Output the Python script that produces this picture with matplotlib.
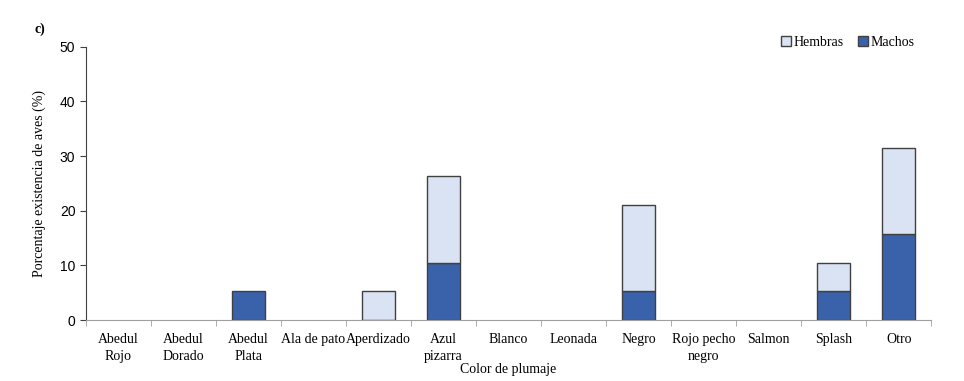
import numpy as np
import matplotlib.pyplot as plt
from matplotlib.patches import Patch

categorias = ['Abedul\nRojo', 'Abedul\nDorado', 'Abedul\nPlata', 'Ala de pato', 'Aperdizado',
              'Azul\npizarra', 'Blanco', 'Leonada', 'Negro', 'Rojo pecho\nnegro', 'Salmon',
              'Splash', 'Otro']
machos = [0, 0, 5.26, 0, 0, 10.53, 0, 0, 5.26, 0, 0, 5.26, 15.79]
hembras = [0, 0, 0, 0, 5.26, 15.79, 0, 0, 15.79, 0, 0, 5.26, 15.79]

serif = 'Liberation Serif'
sans = 'Liberation Sans'
c_machos = '#3A62AA'
c_hembras = '#DAE3F3'
borde = '#404040'

fig = plt.figure(figsize=(9.64, 3.81), dpi=100)
ax = fig.add_axes([0.089, 0.16, 0.877, 0.717])

x = np.arange(len(categorias))
# sin borde en las barras de altura cero
lw_m = [1 if v > 0 else 0 for v in machos]
lw_h = [1 if v > 0 else 0 for v in hembras]
ax.bar(x, machos, width=0.5, color=c_machos, edgecolor=borde, linewidth=lw_m)
ax.bar(x, hembras, width=0.5, bottom=machos, color=c_hembras, edgecolor=borde, linewidth=lw_h)

ax.set_xlim(-0.5, len(categorias) - 0.5)
ax.set_ylim(0, 50)
ax.set_yticks(range(0, 51, 10))
ax.set_xticks(x)
ax.set_xticklabels(categorias, fontfamily=serif, fontsize=10, linespacing=1.4)
ax.set_xticks(np.arange(-0.5, len(categorias), 1), minor=True)
ax.tick_params(axis='x', which='major', length=0, pad=9)
ax.tick_params(axis='x', which='minor', length=4, color='#a0a0a0', direction='out')
ax.tick_params(axis='y', length=4, color=borde, labelsize=10)
for lab in ax.get_yticklabels():
    lab.set_fontfamily(sans)

for s in ['top', 'right']:
    ax.spines[s].set_visible(False)
ax.spines['bottom'].set_color('#a0a0a0')
ax.spines['left'].set_color(borde)

ax.set_xlabel('Color de plumaje', fontfamily=serif, fontsize=10, labelpad=0)
ax.set_ylabel('Porcentaje existencia de aves (%)', fontfamily=serif, fontsize=10, labelpad=10)

handles = [Patch(facecolor=c_hembras, edgecolor=borde, linewidth=1, label='Hembras'),
           Patch(facecolor=c_machos, edgecolor=borde, linewidth=1, label='Machos')]
ax.legend(handles=handles, loc='upper right', bbox_to_anchor=(0.995, 1.085), ncol=2, frameon=False,
          prop={'family': serif, 'size': 10}, handlelength=0.7, handleheight=0.7,
          handletextpad=0.2, columnspacing=1.0)

fig.text(0.036, 0.915, 'c)', fontfamily=serif, fontweight='bold', fontsize=10)

fig.savefig('out.png', dpi=100)
